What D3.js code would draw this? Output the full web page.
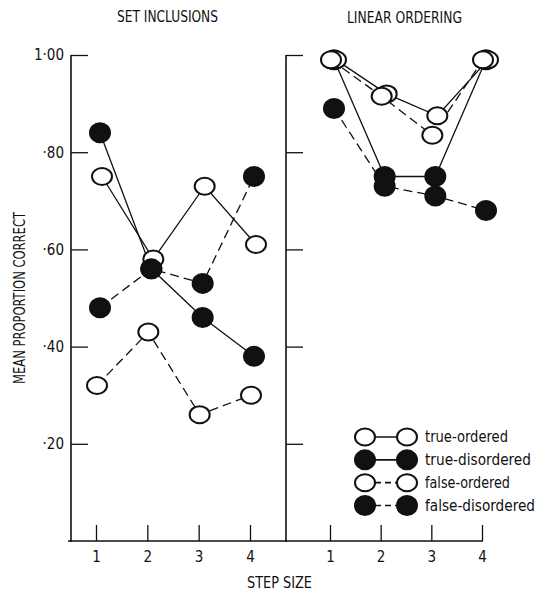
<!DOCTYPE html>
<html>
<head>
<meta charset="utf-8">
<script src="https://cdn.jsdelivr.net/npm/d3@7"></script>
<style>
body{margin:0;background:#fff}
svg text{font-family:"DejaVu Sans Condensed","Liberation Sans Narrow","DejaVu Sans",sans-serif;fill:#111}
</style>
</head>
<body>
<div id="chart"></div>
<script>
// data
const steps=[1,2,3,4]
const seriesNames=["true-ordered","true-disordered","false-ordered","false-disordered"]
const panelTitles=["SET INCLUSIONS","LINEAR ORDERING"]
const yTicks=[20,40,60,80,100]
const yTickLabels=["·20","·40","·60","·80","1·00"]

const setTrueOrdered=[75,58,73,61]
const setTrueDisordered=[84,56,46,38]
const setFalseOrdered=[32,43,26,30]
const setFalseDisordered=[48,56,53,75]

const linTrueOrdered=[99,92,87.5,99]
const linTrueDisordered=[99,75,75,99]
const linFalseOrdered=[99,91.5,83.5,99]
const linFalseDisordered=[89,73,71,68]

const panels=[
[setTrueOrdered,setTrueDisordered,setFalseOrdered,setFalseDisordered],
[linTrueOrdered,linTrueDisordered,linFalseOrdered,linFalseDisordered]
]

// look of each series
const look={
"true-ordered":{filled:false,dash:null,dx:2},
"true-disordered":{filled:true,dash:null,dx:0},
"false-ordered":{filled:false,dash:"9,5",dx:-3},
"false-disordered":{filled:true,dash:"9,5",dx:0}
}
const drawOrder=["true-disordered","true-ordered","false-ordered","false-disordered"]

const width=547,height=593
const svg=d3.select("#chart").append("svg")
.attr("width",width).attr("height",height)

const y=d3.scaleLinear().domain([0,100]).range([541,55])
const axisX=[71,286]
const xs=[
d3.scaleLinear().domain([1,4]).range([100,254]),
d3.scaleLinear().domain([1,4]).range([334,486])
]

// y axes
axisX.forEach((ax,i)=>{
const g=svg.append("g").attr("transform","translate("+ax+",0)")
.call(d3.axisLeft(y).tickValues(yTicks).tickSizeInner(-17).tickSizeOuter(0).tickPadding(7)
.tickFormat(d=>i==0?yTickLabels[yTicks.indexOf(d)]:""))
g.select(".domain").remove()
g.selectAll("line").attr("stroke","#111").attr("stroke-width",1.3)
g.selectAll("text").attr("font-size",15).style("font-family",null)
g.append("line").attr("x1",0).attr("x2",0).attr("y1",y(100)).attr("y2",y(0)+1)
.attr("stroke","#111").attr("stroke-width",1.6)
})

// x axes, ticks point up
xs.forEach(x=>{
const g=svg.append("g").attr("transform","translate(-4,"+y(0)+")")
.call(d3.axisBottom(x).tickValues(steps).tickSizeInner(-16).tickSizeOuter(0).tickPadding(10).tickFormat(d3.format("d")))
g.select(".domain").remove()
g.selectAll("line").attr("stroke","#111").attr("stroke-width",1.3)
g.selectAll("text").attr("font-size",15).style("font-family",null)
})
svg.append("line").attr("x1",axisX[0]-3).attr("x2",xs[1](4)-3)
.attr("y1",y(0)).attr("y2",y(0)).attr("stroke","#111").attr("stroke-width",1.6)

// titles and axis labels
svg.append("text").attr("x",117).attr("y",22).attr("font-size",16)
.attr("textLength",101).attr("lengthAdjust","spacingAndGlyphs").text(panelTitles[0])
svg.append("text").attr("x",347).attr("y",23).attr("font-size",16)
.attr("textLength",115).attr("lengthAdjust","spacingAndGlyphs").text(panelTitles[1])
svg.append("text").attr("transform","translate(25,298) rotate(-90)").attr("text-anchor","middle")
.attr("font-size",16).attr("textLength",172).attr("lengthAdjust","spacingAndGlyphs").text("MEAN PROPORTION CORRECT")
svg.append("text").attr("x",247).attr("y",588).attr("font-size",15)
.attr("textLength",65).attr("lengthAdjust","spacingAndGlyphs").text("STEP SIZE")

// lines first, then circles on top
panels.forEach((vals,p)=>{
const x=xs[p]
seriesNames.forEach((name,s)=>{
const lk=look[name]
const line=d3.line().x((d,i)=>x(steps[i])+lk.dx).y(d=>y(d))
svg.append("path").attr("d",line(vals[s]))
.attr("fill","none").attr("stroke","#111").attr("stroke-width",1.3)
.attr("stroke-dasharray",lk.dash)
})
})
panels.forEach((vals,p)=>{
const x=xs[p]
drawOrder.forEach(name=>{
const s=seriesNames.indexOf(name)
const lk=look[name]
svg.append("g").selectAll("ellipse").data(vals[s]).enter().append("ellipse")
.attr("cx",(d,i)=>x(steps[i])+lk.dx).attr("cy",d=>y(d))
.attr("rx",10).attr("ry",lk.filled?9.5:8.5)
.attr("fill",lk.filled?"#111":"#fff").attr("stroke","#111").attr("stroke-width",2)
})
})

// legend
const legY=d3.scalePoint().domain(seriesNames).range([437,505.5])
const leg=svg.append("g")
const legW={"true-ordered":83,"true-disordered":106,"false-ordered":85,"false-disordered":110}
seriesNames.forEach(name=>{
const lk=look[name],yy=legY(name)
leg.append("line").attr("x1",365).attr("x2",407).attr("y1",yy).attr("y2",yy)
.attr("stroke","#111").attr("stroke-width",1.6).attr("stroke-dasharray",lk.dash?"6,4":null)
;[365,407].forEach(cx=>{
leg.append("ellipse").attr("cx",cx).attr("cy",yy).attr("rx",10).attr("ry",lk.filled?9.5:8.5)
.attr("fill",lk.filled?"#111":"#fff").attr("stroke","#111").attr("stroke-width",2)
})
leg.append("text").attr("x",425).attr("y",yy+5).attr("font-size",15)
.attr("textLength",legW[name]).attr("lengthAdjust","spacingAndGlyphs").text(name)
})
</script>
</body>
</html>
